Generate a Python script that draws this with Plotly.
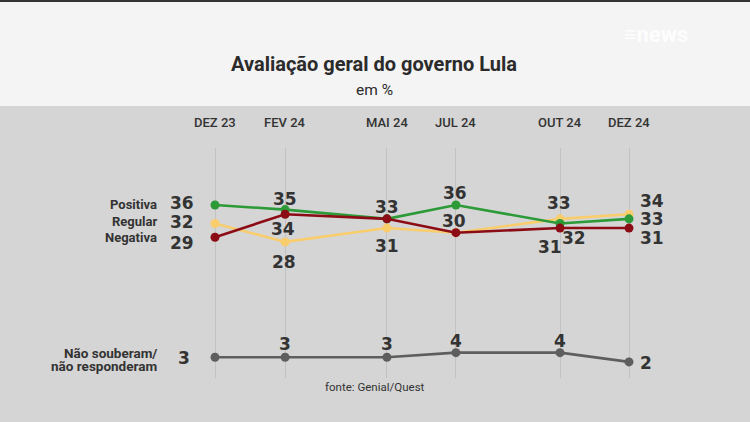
import plotly.graph_objects as go
import pandas as pd

# ---------------- data ----------------
periods = ["2023-12-01", "2024-02-01", "2024-05-01", "2024-07-01", "2024-10-01", "2024-12-01"]
period_labels = ["DEZ 23", "FEV 24", "MAI 24", "JUL 24", "OUT 24", "DEZ 24"]
positiva = [36, 35, 33, 36, 32, 33]
regular = [32, 28, 31, 30, 33, 34]
negativa = [29, 34, 33, 30, 31, 31]
nao_sabe = [3, 3, 3, 4, 4, 2]

title = "Avaliação geral do governo Lula"
subtitle = "em %"
source = "fonte: Genial/Quest"

# ---------------- layout geometry ----------------
W, H = 750, 422
PX0, PX1 = 190, 660      # plot area x (pixels)
PY0, PY1 = 148, 378      # plot area y (pixels, top/bottom)

d0 = pd.Timestamp(periods[0])
d1 = pd.Timestamp(periods[-1])
ms_per_px = (d1 - d0) / 414
xrange = [(d0 - 25 * ms_per_px).isoformat(), (d1 + 31 * ms_per_px).isoformat()]
yrange = [-1.49, 48.35]


def paper_x(px):
    return (px - PX0) / (PX1 - PX0)


def paper_y(py):
    return (PY1 - py) / (PY1 - PY0)


GREEN = "#2b9a37"
YELLOW = "#f9cd6c"
RED = "#8c0c15"
GRAY = "#5e5e5e"
TXT = "#333333"
NUMFONT = dict(family="DejaVu Sans", size=17, color=TXT, weight="bold")

fig = go.Figure()

series = [
    ("Regular", regular, YELLOW),
    ("Positiva", positiva, GREEN),
    ("Negativa", negativa, RED),
    ("Não souberam/não responderam", nao_sabe, GRAY),
]
for name, vals, col in series:
    fig.add_trace(go.Scatter(
        x=periods, y=vals, mode="lines+markers", name=name,
        line=dict(color=col, width=2.6),
        marker=dict(color=col, size=9),
        cliponaxis=False, showlegend=False, hoverinfo="skip",
    ))

# label placements: (dx, dy, xanchor) screen offsets from the point; None = no label
place = {
    "Positiva": [(-19, -2, "right"), (0, -11, "center"), (0, -12, "center"),
                 (-1, -12, "center"), (14, 15, "center"), (9, 0.5, "left")],
    "Regular": [(-19, -1, "right"), (-1, 20, "center"), (0, 17.5, "center"),
                None, (-1, -16, "center"), (9, -13.5, "left")],
    "Negativa": [(-19, 6, "right"), (-2, 15, "center"), None,
                 (-2, -12, "center"), (-10, 19, "center"), (9, 10, "left")],
    "Não souberam/não responderam": [(-23, 1, "right"), (0, -13, "center"), (0, -13, "center"),
                                     (0, -12, "center"), (0, -12, "center"), (9, 1.5, "left")],
}

annotations = []
for name, vals, col in series:
    for p, v, pl in zip(periods, vals, place[name]):
        if pl is None:
            continue
        dx, dy, xa = pl
        annotations.append(dict(
            x=p, y=v, xref="x", yref="y", text=str(v), showarrow=False,
            xanchor=xa, yanchor="middle", xshift=dx, yshift=-dy, font=NUMFONT,
        ))

# category labels on the left
LABFONT = dict(family="Roboto", size=13, color=TXT, weight="bold")
for name, vals, dy in [("Positiva", positiva, 0), ("Regular", regular, -1.5), ("Negativa", negativa, 0.5)]:
    annotations.append(dict(x=periods[0], y=vals[0], xref="x", yref="y", text=name,
                            showarrow=False, xanchor="right", yanchor="middle",
                            xshift=-56, yshift=-dy, font=LABFONT))
for txt, dy in [("Não souberam/", -4.5), ("não responderam", 8.5)]:
    annotations.append(dict(x=periods[0], y=nao_sabe[0], xref="x", yref="y", text=txt,
                            showarrow=False, xanchor="right", yanchor="middle",
                            xshift=-56, yshift=-dy, font=dict(family="Roboto", size=13.5, color=TXT, weight="bold")))

# period labels on top
for p, lab in zip(periods, period_labels):
    annotations.append(dict(x=p, y=paper_y(122), xref="x", yref="paper", text=lab,
                            showarrow=False, xanchor="center", yanchor="middle",
                            font=dict(family="Roboto", size=13, color=TXT, weight=500)))

# title / subtitle / source / logo
annotations += [
    dict(x=paper_x(373.5), y=paper_y(63.5), xref="paper", yref="paper", text=title, showarrow=False,
         xanchor="center", yanchor="middle",
         font=dict(family="Roboto", size=20, color="#2b2b2b", weight="bold")),
    dict(x=paper_x(374), y=paper_y(89.5), xref="paper", yref="paper", text=subtitle, showarrow=False,
         xanchor="center", yanchor="middle", font=dict(family="Roboto", size=15.5, color="#2b2b2b")),
    dict(x=paper_x(375), y=paper_y(387), xref="paper", yref="paper", text=source, showarrow=False,
         xanchor="center", yanchor="middle", font=dict(family="Roboto", size=11.5, color=TXT)),
    dict(x=paper_x(656), y=paper_y(34), xref="paper", yref="paper", text="≡news", showarrow=False,
         xanchor="center", yanchor="middle",
         font=dict(family="Roboto", size=22, color="rgba(255,255,255,0.85)", weight="bold")),
]

shapes = [
    dict(type="rect", xref="paper", yref="paper", x0=paper_x(0), x1=paper_x(W),
         y0=paper_y(106), y1=paper_y(0), fillcolor="#f4f4f4", line_width=0, layer="below"),
    dict(type="rect", xref="paper", yref="paper", x0=paper_x(0), x1=paper_x(W),
         y0=paper_y(2), y1=paper_y(0), fillcolor="#333333", line_width=0, layer="above"),
]

fig.update_layout(
    width=W, height=H,
    margin=dict(l=PX0, r=W - PX1, t=PY0, b=H - PY1, pad=0),
    paper_bgcolor="#d5d5d5", plot_bgcolor="#d5d5d5",
    xaxis=dict(type="date", range=xrange, tickvals=periods, showticklabels=False,
               showgrid=True, gridcolor="#c2c2c2", gridwidth=1, zeroline=False,
               showline=False, ticks="", fixedrange=True),
    yaxis=dict(range=yrange, showgrid=False, zeroline=False, showticklabels=False,
               showline=False, ticks="", fixedrange=True),
    annotations=annotations, shapes=shapes,
)

fig.write_html("out.html")
